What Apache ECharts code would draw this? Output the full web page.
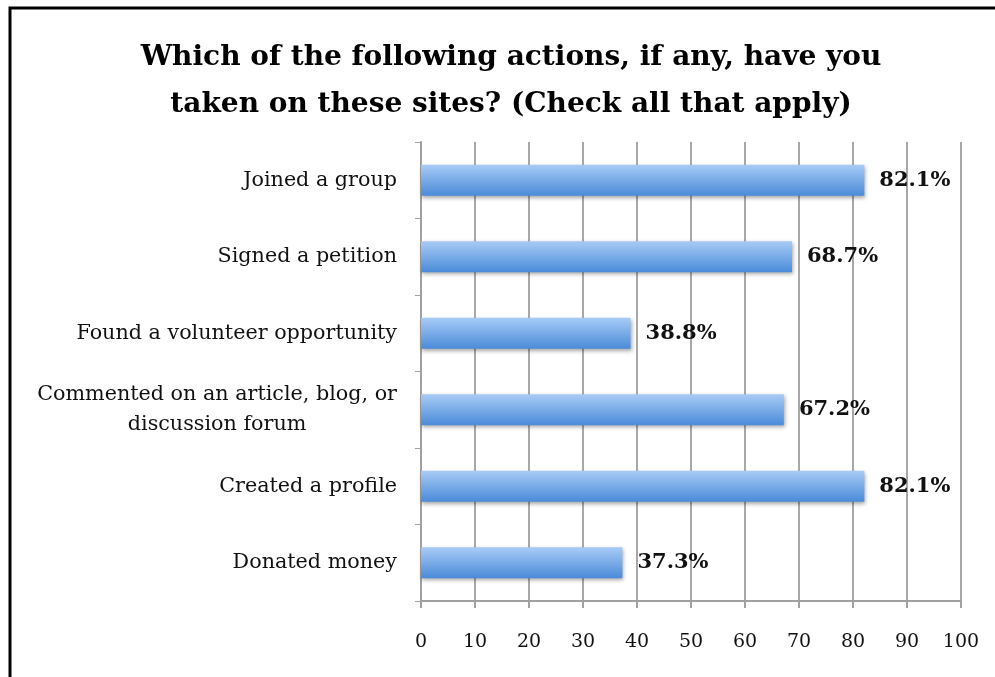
<!DOCTYPE html>
<html>
<head>
<meta charset="utf-8">
<script src="https://cdn.jsdelivr.net/npm/echarts@6/dist/echarts.min.js"></script>
<style>
  html, body { margin: 0; padding: 0; background: #fff; }
  #chart { width: 995px; height: 677px; }
</style>
</head>
<body>
<div id="chart"></div>
<script>
// survey answers, top to bottom
var categories = [
    'Joined a group',
    'Signed a petition',
    'Found a volunteer opportunity',
    'Commented on an article, blog, or\ndiscussion forum',
    'Created a profile',
    'Donated money'
];
var percents = [82.1, 68.7, 38.8, 67.2, 82.1, 37.3];

var serif = '"DejaVu Serif", "Liberation Serif", serif';

var chart = echarts.init(document.getElementById('chart'));

var option = {
    backgroundColor: '#fff',
    animation: false,
    title: {
        text: 'Which of the following actions, if any, have you\ntaken on these sites? (Check all that apply)',
        left: 506,
        top: 29,
        textAlign: 'center',
        textStyle: {
            fontFamily: serif,
            fontWeight: 'bold',
            fontSize: 28,
            lineHeight: 47,
            color: '#000'
        }
    },
    graphic: [{
        type: 'rect',
        shape: { x: 10, y: 8, width: 1100, height: 800 },
        style: { fill: 'none', stroke: '#000', lineWidth: 3 },
        silent: true
    }],
    grid: { left: 421, right: 34, top: 142, bottom: 76 },
    xAxis: {
        type: 'value',
        min: 0,
        max: 100,
        interval: 10,
        axisLine: { show: true, lineStyle: { color: '#a0a0a0', width: 2 } },
        axisTick: { show: true, length: 7, lineStyle: { color: '#a0a0a0', width: 2 } },
        splitLine: { show: true, lineStyle: { color: '#a8a8a8', width: 2 } },
        axisLabel: {
            margin: 32,
            fontFamily: serif,
            fontSize: 19,
            color: '#111'
        }
    },
    yAxis: {
        type: 'category',
        inverse: true,
        data: categories,
        axisLine: { show: true, lineStyle: { color: '#a0a0a0', width: 2 } },
        axisTick: { show: true, length: 6, lineStyle: { color: '#a0a0a0', width: 1 } },
        axisLabel: {
            margin: 24,
            fontFamily: serif,
            fontSize: 20.7,
            color: '#111',
            lineHeight: 30,
            formatter: function (v) {
                return v.split('\n').map(function (s) { return '{c|' + s + '}'; }).join('\n');
            },
            rich: {
                c: { align: 'center', fontFamily: serif, fontSize: 20.7, lineHeight: 30, color: '#111' }
            }
        }
    },
    series: [{
        type: 'bar',
        data: percents,
        barWidth: 31,
        itemStyle: {
            color: new echarts.graphic.LinearGradient(0, 0, 0, 1, [
                { offset: 0, color: '#a8cbf6' },
                { offset: 1, color: '#4a8bd8' }
            ]),
            shadowColor: 'rgba(0,0,0,0.35)',
            shadowBlur: 4,
            shadowOffsetX: 1,
            shadowOffsetY: 2
        },
        label: {
            show: true,
            position: 'right',
            distance: 15,
            formatter: function (p) { return p.value.toFixed(1) + '%'; },
            fontFamily: serif,
            fontWeight: 'bold',
            fontSize: 21,
            color: '#111'
        }
    }]
};

chart.setOption(option);
</script>
</body>
</html>
